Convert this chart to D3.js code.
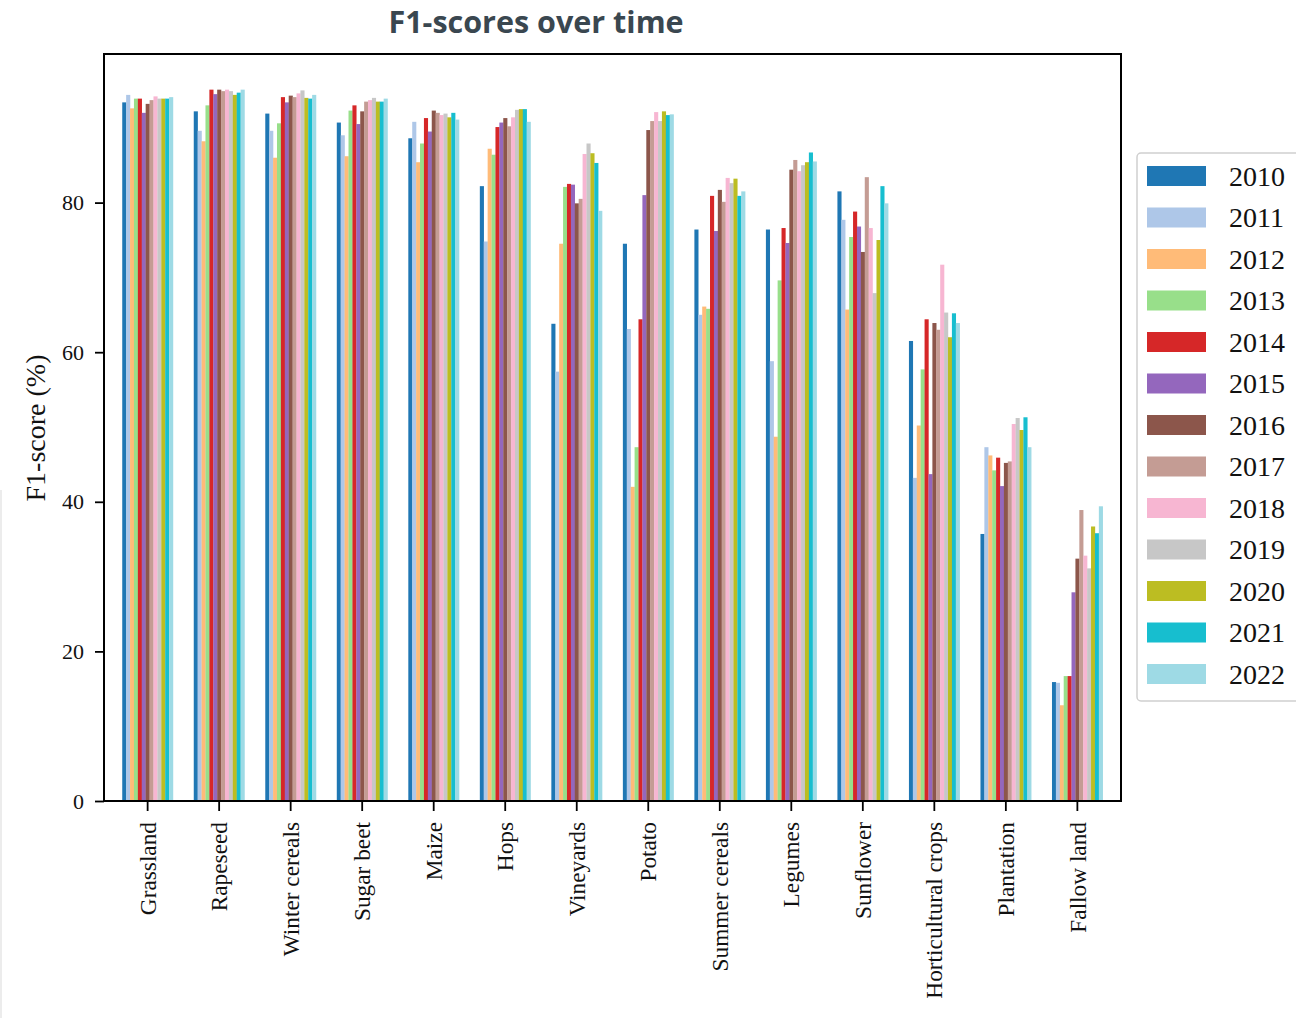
<!DOCTYPE html>
<html>
<head>
<meta charset="utf-8">
<script src="https://cdn.jsdelivr.net/npm/d3@7"></script>
<style>
  body { margin: 0; background: #fff; }
  svg { display: block; }
</style>
</head>
<body>
<script>
// crop classes on the x axis
const categories = ["Grassland", "Rapeseed", "Winter cereals", "Sugar beet", "Maize", "Hops",
  "Vineyards", "Potato", "Summer cereals", "Legumes", "Sunflower", "Horticultural crops",
  "Plantation", "Fallow land"];

const years = ["2010", "2011", "2012", "2013", "2014", "2015", "2016", "2017", "2018", "2019", "2020", "2021", "2022"];

const colors = ["#1f77b4", "#aec7e8", "#ffbb78", "#98df8a", "#d62728", "#9467bd", "#8c564b",
  "#c49c94", "#f7b6d2", "#c7c7c7", "#bcbd22", "#17becf", "#9edae5"];

// one row per category, values for 2010..2022
const scores = [
  [93.4, 94.4, 92.6, 93.9, 93.9, 92.0, 93.2, 93.7, 94.2, 93.9, 93.9, 93.9, 94.1], // Grassland
  [92.2, 89.6, 88.2, 93.0, 95.1, 94.5, 95.1, 94.9, 95.1, 94.9, 94.4, 94.7, 95.1], // Rapeseed
  [91.9, 89.6, 86.0, 90.6, 94.1, 93.4, 94.3, 94.1, 94.6, 95.0, 94.0, 93.9, 94.4], // Winter cereals
  [90.7, 89.0, 86.2, 92.3, 93.0, 90.5, 92.2, 93.5, 93.7, 94.0, 93.5, 93.5, 93.9], // Sugar beet
  [88.6, 90.8, 85.4, 87.9, 91.3, 89.5, 92.3, 92.0, 91.7, 91.9, 91.4, 92.0, 91.1], // Maize
  [82.2, 74.8, 87.2, 86.4, 90.1, 90.7, 91.3, 90.2, 91.4, 92.4, 92.5, 92.5, 90.8], // Hops
  [63.8, 57.4, 74.5, 82.1, 82.5, 82.4, 79.9, 80.5, 86.5, 87.9, 86.6, 85.3, 78.9], // Vineyards
  [74.5, 63.1, 42.0, 47.3, 64.4, 81.0, 89.7, 90.9, 92.1, 90.9, 92.2, 91.7, 91.8], // Potato
  [76.4, 65.0, 66.1, 65.8, 80.9, 76.2, 81.7, 80.1, 83.3, 82.6, 83.2, 80.9, 81.5], // Summer cereals
  [76.4, 58.8, 48.7, 69.6, 76.6, 74.6, 84.4, 85.7, 84.2, 85.0, 85.4, 86.7, 85.5], // Legumes
  [81.5, 77.7, 65.7, 75.4, 78.8, 76.8, 73.4, 83.4, 76.6, 67.9, 75.0, 82.2, 79.9], // Sunflower
  [61.5, 43.2, 50.2, 57.7, 64.4, 43.7, 63.9, 63.0, 71.7, 65.3, 62.0, 65.2, 63.9], // Horticultural crops
  [35.7, 47.3, 46.2, 44.2, 45.9, 42.1, 45.2, 45.4, 50.4, 51.2, 49.6, 51.3, 47.3], // Plantation
  [15.9, 15.8, 12.8, 16.7, 16.7, 27.9, 32.4, 38.9, 32.8, 31.1, 36.7, 35.8, 39.4]  // Fallow land
];

const yTicks = [0, 20, 40, 60, 80];

const W = 1296, H = 1018;
const plotL = 104, plotR = 1121, plotT = 54, plotB = 801;
const serif = "'Liberation Serif', 'Times New Roman', serif";

const svg = d3.select("body").append("svg")
  .attr("width", W)
  .attr("height", H);

// faint edge line on the far left of the picture
svg.append("line")
  .attr("x1", 1).attr("x2", 1).attr("y1", 490).attr("y2", H)
  .attr("stroke", "#e6e6e6").attr("stroke-width", 1.5);

const x0 = d3.scaleBand()
  .domain(categories)
  .range([plotL, plotR])
  .paddingInner(0.29)
  .paddingOuter(0.255);

const x1 = d3.scaleBand()
  .domain(years)
  .range([0, x0.bandwidth()]);

const y = d3.scaleLinear()
  .domain([0, 100])
  .range([plotB, plotT - 1]);

// bars
const groups = svg.append("g").selectAll("g")
  .data(categories)
  .join("g")
  .attr("transform", d => "translate(" + x0(d) + ",0)");

groups.selectAll("rect")
  .data((d, i) => scores[i].map((v, j) => ({ year: years[j], value: v, color: colors[j] })))
  .join("rect")
  .attr("x", d => x1(d.year))
  .attr("width", x1.bandwidth() + 0.2)
  .attr("y", d => y(d.value))
  .attr("height", d => plotB - y(d.value))
  .attr("fill", d => d.color);

// frame
svg.append("rect")
  .attr("x", plotL).attr("y", plotT)
  .attr("width", plotR - plotL).attr("height", plotB - plotT)
  .attr("fill", "none").attr("stroke", "#000").attr("stroke-width", 2);

// y axis
const yAxis = svg.append("g")
  .attr("transform", "translate(" + plotL + ",0)")
  .call(d3.axisLeft(y).tickValues(yTicks).tickSize(9).tickPadding(11));
yAxis.select(".domain").remove();
yAxis.selectAll("line").attr("stroke-width", 1.8);
yAxis.selectAll("text").attr("font-family", serif).attr("font-size", 22).attr("fill", "#111");

// x axis
const xAxis = svg.append("g")
  .attr("transform", "translate(0," + plotB + ")")
  .call(d3.axisBottom(x0).tickSize(10).tickPadding(0));
xAxis.select(".domain").remove();
xAxis.selectAll("line").attr("stroke-width", 1.8);
xAxis.selectAll("text")
  .attr("font-family", serif)
  .attr("font-size", 23.3)
  .attr("fill", "#111")
  .attr("transform", "rotate(-90)")
  .attr("x", -21)
  .attr("y", 0)
  .attr("dy", "0.35em")
  .attr("text-anchor", "end");

// y label
svg.append("text")
  .attr("transform", "translate(45,428) rotate(-90)")
  .attr("text-anchor", "middle")
  .attr("font-family", serif)
  .attr("font-size", 28)
  .attr("fill", "#111")
  .text("F1-score (%)");

// title
svg.append("text")
  .attr("x", 536)
  .attr("y", 33)
  .attr("text-anchor", "middle")
  .attr("font-family", "'Open Sans', sans-serif")
  .attr("font-weight", "bold")
  .attr("font-size", 30.5)
  .attr("fill", "#3a4750")
  .text("F1-scores over time");

// legend
const legend = svg.append("g");
legend.append("rect")
  .attr("x", 1137).attr("y", 153)
  .attr("width", 175).attr("height", 548)
  .attr("rx", 4)
  .attr("fill", "#fff").attr("stroke", "#cfcfcf").attr("stroke-width", 1.5);

const items = legend.selectAll("g.item")
  .data(years)
  .join("g")
  .attr("class", "item")
  .attr("transform", (d, i) => "translate(0," + (176 + i * 41.5) + ")");

items.append("rect")
  .attr("x", 1147).attr("y", -10)
  .attr("width", 59).attr("height", 20)
  .attr("fill", (d, i) => colors[i]);

items.append("text")
  .attr("x", 1229)
  .attr("y", 0)
  .attr("dy", "0.35em")
  .attr("font-family", serif)
  .attr("font-size", 28)
  .attr("fill", "#111")
  .text(d => d);
</script>
</body>
</html>
